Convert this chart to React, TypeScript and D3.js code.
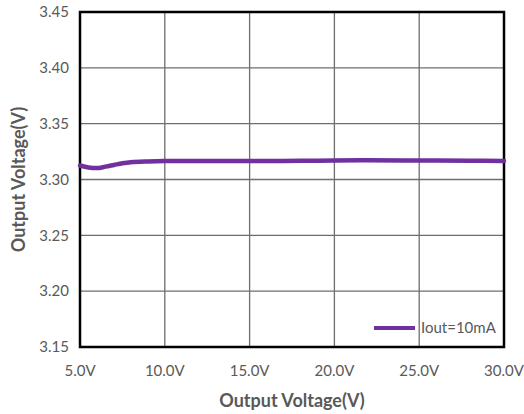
import { useEffect, useRef } from 'react';
import * as d3 from 'd3';

// input voltage (V) and measured output voltage (V)
const inputVolts = [5, 5.5, 6, 6.5, 7, 7.5, 8, 9, 10, 12, 15, 18, 20, 22, 25, 28, 30];
const outputVolts = [3.3125, 3.3108, 3.3102, 3.3115, 3.313, 3.3145, 3.3155, 3.3162, 3.3165, 3.3165, 3.3165, 3.3168, 3.317, 3.3172, 3.317, 3.3168, 3.3165];
const xTicks = [5, 10, 15, 20, 25, 30];
const yTicks = [3.15, 3.2, 3.25, 3.3, 3.35, 3.4, 3.45];
const seriesName = 'Iout=10mA';

const App = () => {
  const ref = useRef<SVGSVGElement>(null);

  useEffect(() => {
    const width = 524;
    const height = 414;
    const margin = { top: 12, right: 20, bottom: 67, left: 80 };
    const font = 'Lato, "Open Sans", sans-serif';

    const svg = d3.select(ref.current);
    svg.selectAll('*').remove();

    const x = d3.scaleLinear().domain([5, 30]).range([margin.left, width - margin.right]);
    const y = d3.scaleLinear().domain([3.15, 3.45]).range([height - margin.bottom, margin.top]);

    // grid
    const grid = svg.append('g');
    grid.selectAll('line.v')
      .data(xTicks.slice(1, -1))
      .enter()
      .append('line')
      .attr('x1', (d) => x(d))
      .attr('x2', (d) => x(d))
      .attr('y1', y(3.45))
      .attr('y2', y(3.15))
      .attr('stroke', '#6e6e6e')
      .attr('stroke-width', 1.3);
    grid.selectAll('line.h')
      .data(yTicks.slice(1, -1))
      .enter()
      .append('line')
      .attr('x1', x(5))
      .attr('x2', x(30))
      .attr('y1', (d) => y(d))
      .attr('y2', (d) => y(d))
      .attr('stroke', '#6e6e6e')
      .attr('stroke-width', 1.3);

    // frame
    svg.append('rect')
      .attr('x', x(5))
      .attr('y', y(3.45))
      .attr('width', x(30) - x(5))
      .attr('height', y(3.15) - y(3.45))
      .attr('fill', 'none')
      .attr('stroke', '#000')
      .attr('stroke-width', 2.5);

    // y tick labels
    svg.append('g')
      .selectAll('text')
      .data(yTicks)
      .enter()
      .append('text')
      .attr('x', x(5) - 11)
      .attr('y', (d) => y(d))
      .attr('dy', '0.35em')
      .attr('text-anchor', 'end')
      .attr('font-family', font)
      .attr('font-size', '15px')
      .attr('fill', '#595959')
      .text((d) => d3.format('.2f')(d));

    // x tick labels
    svg.append('g')
      .selectAll('text')
      .data(xTicks)
      .enter()
      .append('text')
      .attr('x', (d) => x(d))
      .attr('y', y(3.15) + 29)
      .attr('text-anchor', 'middle')
      .attr('font-family', font)
      .attr('font-size', '15px')
      .attr('fill', '#595959')
      .text((d) => `${d3.format('.1f')(d)}V`);

    // axis titles
    svg.append('text')
      .attr('x', (x(5) + x(30)) / 2)
      .attr('y', 407)
      .attr('text-anchor', 'middle')
      .attr('font-family', font)
      .attr('font-size', '18px')
      .attr('font-weight', 'bold')
      .attr('fill', '#595959')
      .text('Output Voltage(V)');

    svg.append('text')
      .attr('transform', `translate(25, ${(y(3.15) + y(3.45)) / 2}) rotate(-90)`)
      .attr('text-anchor', 'middle')
      .attr('font-family', font)
      .attr('font-size', '18px')
      .attr('font-weight', 'bold')
      .attr('fill', '#595959')
      .text('Output Voltage(V)');

    // series
    const data = inputVolts.map((v, i) => [v, outputVolts[i]] as [number, number]);
    const line = d3.line<[number, number]>()
      .x((d) => x(d[0]))
      .y((d) => y(d[1]))
      .curve(d3.curveMonotoneX);
    svg.append('path')
      .attr('d', line(data))
      .attr('fill', 'none')
      .attr('stroke', '#7030a0')
      .attr('stroke-width', 4.5)
      .attr('stroke-linecap', 'round');

    // legend
    const ly = 328;
    svg.append('line')
      .attr('x1', 374)
      .attr('x2', 415)
      .attr('y1', ly)
      .attr('y2', ly)
      .attr('stroke', '#7030a0')
      .attr('stroke-width', 4);
    svg.append('text')
      .attr('x', 421)
      .attr('y', ly)
      .attr('dy', '0.35em')
      .attr('font-family', font)
      .attr('font-size', '15px')
      .attr('fill', '#595959')
      .text(seriesName);
  }, []);

  return <svg ref={ref} width={524} height={414} style={{ display: 'block', position: 'absolute', left: 0, top: 0 }} />;
};

export default App;
